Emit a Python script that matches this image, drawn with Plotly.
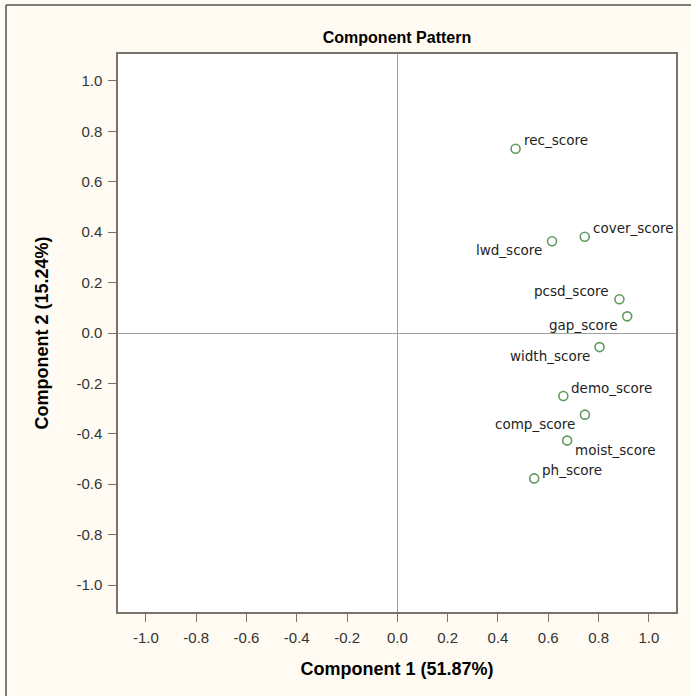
import plotly.graph_objects as go

names = ["rec_score", "lwd_score", "cover_score", "pcsd_score", "gap_score",
         "width_score", "demo_score", "comp_score", "moist_score", "ph_score"]
comp1 = [0.470, 0.615, 0.745, 0.883, 0.914, 0.804, 0.660, 0.746, 0.675, 0.544]
comp2 = [0.731, 0.364, 0.382, 0.134, 0.066, -0.056, -0.250, -0.324, -0.427, -0.577]
tick_vals = [-1.0, -0.8, -0.6, -0.4, -0.2, 0.0, 0.2, 0.4, 0.6, 0.8, 1.0]
tick_text = ["-1.0", "-0.8", "-0.6", "-0.4", "-0.2", "0.0", "0.2", "0.4", "0.6", "0.8", "1.0"]

# label placement relative to its point: (horizontal side, vertical side)
label_side = [("right", "up"), ("left", "down"), ("right", "up"), ("left", "up"), ("left", "down"),
              ("left", "down"), ("right", "up"), ("left", "down"), ("right", "down"), ("right", "up")]

fig = go.Figure()
fig.add_trace(go.Scatter(
    x=comp1, y=comp2, mode="markers",
    marker=dict(symbol="circle-open", size=9, color="#5F9A5F", line=dict(width=1.6, color="#5F9A5F")),
    showlegend=False, hoverinfo="skip"))

for nm, xv, yv, (hs, vs) in zip(names, comp1, comp2, label_side):
    fig.add_annotation(
        x=xv, y=yv, text=nm, showarrow=False,
        xanchor="left" if hs == "right" else "right", yanchor="middle",
        xshift=6 if hs == "right" else -8, yshift=8.5 if vs == "up" else -9,
        font=dict(family="DejaVu Sans", size=13.5, color="#1E1E1E"))

axis_common = dict(
    tickvals=tick_vals, ticktext=tick_text,
    showgrid=False, zeroline=True, zerolinecolor="#A0A0A0", zerolinewidth=1,
    showline=True, mirror=True, linecolor="#77736A", linewidth=1.5,
    ticks="outside", ticklen=8, tickcolor="#77736A", tickwidth=1, ticklabelstandoff=3,
    tickfont=dict(family="Liberation Sans", size=15, color="#333333"),
)

fig.update_layout(
    width=691, height=696,
    margin=dict(l=118, r=15, t=54, b=84),
    paper_bgcolor="#FFFBF2", plot_bgcolor="#FFFFFF",
    title=dict(text="<b>Component Pattern</b>", x=0.5, xref="paper", y=1 - 37 / 696,
               yanchor="middle", xanchor="center",
               font=dict(family="Liberation Sans", size=16, color="#000000")),
    xaxis=dict(range=[-1.111, 1.108],
               title=dict(text="<b>Component 1 (51.87%)</b>", standoff=18,
                          font=dict(family="Liberation Sans", size=18, color="#000000")),
               **axis_common),
    yaxis=dict(range=[-1.107, 1.107],
               title=dict(text="<b>Component 2 (15.24%)</b>", standoff=23,
                          font=dict(family="Liberation Sans", size=18, color="#000000")),
               **axis_common),
)

# outer frame (top and left edges visible)
fig.add_shape(type="line", xref="paper", yref="paper",
              x0=(6 - 118) / 558, x1=(700 - 118) / 558, y0=(612 - 5) / 558, y1=(612 - 5) / 558,
              line=dict(color="#55524C", width=1.5), layer="above")
fig.add_shape(type="line", xref="paper", yref="paper",
              x0=(6 - 118) / 558, x1=(6 - 118) / 558, y0=(612 - 5) / 558, y1=(612 - 700) / 558,
              line=dict(color="#55524C", width=1.5), layer="above")

fig.write_html("out.html", config={"displayModeBar": False},
               post_script="document.body.style.margin='0px';document.body.style.overflow='hidden';")
